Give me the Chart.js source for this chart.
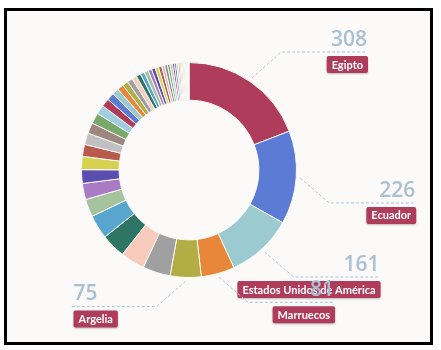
<!DOCTYPE html>
<html lang="es">
<head>
<meta charset="utf-8">
<title>Donut por país</title>
<script src="https://cdn.jsdelivr.net/npm/chart.js@4/dist/chart.umd.min.js"></script>
<style>
    body { margin: 0; background: #ffffff; }
    .frame {
        position: absolute;
        left: 4px;
        top: 8px;
        width: 423px;
        height: 331px;
        border: 3px solid #000;
        background: #fbfaf8;
    }
    canvas { display: block; }
</style>
</head>
<body>
<div class="frame"><canvas id="chart" width="423" height="331"></canvas></div>
<script>
// Data
const countries = [
    'Egipto', 'Ecuador', 'Estados Unidos de América', 'Marruecos', 'Argelia',
    'Perú', 'Chile', 'Colombia', 'México', 'Argentina', 'Brasil', 'Túnez',
    'Libia', 'Cuba', 'Uruguay', 'Venezuela', 'Bolivia', 'Paraguay', 'Panamá',
    'Costa Rica', 'Guatemala', 'Honduras', 'Nicaragua', 'El Salvador',
    'República Dominicana', 'Puerto Rico', 'Canadá', 'Francia', 'Italia',
    'Portugal', 'Alemania', 'Reino Unido', 'Países Bajos', 'Bélgica', 'Suiza',
    'China', 'Japón', 'India', 'Turquía', 'Israel', 'Jordania', 'Líbano',
    'Senegal', 'Mauritania', 'Nigeria', 'Sudáfrica', 'Australia'
];
const values = [
    308, 226, 161, 81, 75,
    67, 59, 59, 58, 43, 39, 33, 32, 29, 28, 26, 26, 22, 20,
    18, 16, 15, 14, 13, 12, 11, 10, 10, 9, 9, 8, 8, 7, 7, 6, 6,
    5, 5, 4, 4, 3, 3, 3, 2, 2, 2, 2, 1, 1, 1, 1, 1
];
const palette = [
    '#b03c5c', '#5b7bd5', '#9ccad1', '#e8873a', '#b3ad45', '#a0a0a0',
    '#f8cbbd', '#2f7565', '#58a5cd', '#a5c49e', '#a97bc4', '#5a4fb0',
    '#d6d24f', '#b95a4d', '#c0c0c0', '#9d8780', '#78a86a', '#9fcde2'
];
// only the biggest slices get a callout
const labelledCount = 5;

// Fill names if there are more values than names
const labels = values.map((v, i) => countries[i] || ('País ' + (i + 1)));
const colors = values.map((v, i) => palette[i % palette.length]);

// Callout plugin: dashed leader, value and red tag
const calloutPlugin = {
    id: 'callouts',
    afterDatasetsDraw(chart) {
        const ctx = chart.ctx;
        const meta = chart.getDatasetMeta(0);
        meta.data.forEach((arc, i) => {
            if (i >= labelledCount) return;
            const mid = (arc.startAngle + arc.endAngle) / 2;
            const r = arc.outerRadius + 4;
            const sx = arc.x + Math.cos(mid) * r;
            const sy = arc.y + Math.sin(mid) * r;
            const right = Math.cos(mid) >= 0;
            const down = Math.sin(mid) >= 0;
            const ex = sx + (right ? 29 : -29);
            const ey = sy + (down ? 25 : -26);
            const lx = ex + (right ? 86 : -86);

            ctx.save();
            ctx.strokeStyle = '#a9c6dc';
            ctx.lineWidth = 1;
            ctx.setLineDash([3, 2]);
            ctx.beginPath();
            ctx.moveTo(sx, sy);
            ctx.lineTo(ex, ey);
            ctx.lineTo(lx, ey);
            ctx.stroke();
            ctx.setLineDash([]);

            // tag
            ctx.font = 'bold 11px Lato';
            const tw = ctx.measureText(labels[i]).width;
            const bw = tw + 10;
            const bh = 17;
            const bx = right ? lx + 1 - bw : lx + 3;
            const by = ey + 4;
            ctx.shadowColor = 'rgba(0,0,0,0.25)';
            ctx.shadowBlur = 2;
            ctx.shadowOffsetY = 1;
            ctx.fillStyle = '#b03c5c';
            ctx.beginPath();
            ctx.roundRect(bx, by, bw, bh, 2);
            ctx.fill();
            ctx.shadowColor = 'transparent';
            ctx.fillStyle = '#ffffff';
            ctx.textAlign = 'center';
            ctx.textBaseline = 'middle';
            ctx.fillText(labels[i], bx + bw / 2, by + bh / 2 + 0.5);

            // value
            ctx.font = '600 21px "Open Sans"';
            ctx.fillStyle = '#a8bfd4';
            ctx.textAlign = right ? 'right' : 'left';
            ctx.textBaseline = 'alphabetic';
            ctx.fillText(String(values[i]), right ? lx : lx + 3, ey - 6);
            ctx.restore();
        });
    }
};

new Chart(document.getElementById('chart'), {
    type: 'doughnut',
    data: {
        labels: labels,
        datasets: [{
            data: values,
            backgroundColor: colors,
            borderColor: '#fbfaf8',
            borderWidth: 1
        }]
    },
    options: {
        responsive: false,
        animation: false,
        cutout: '65%',
        layout: {
            padding: { left: 74, top: 51, right: 133, bottom: 64 }
        },
        plugins: {
            legend: { display: false },
            tooltip: { enabled: false }
        }
    },
    plugins: [calloutPlugin]
});
</script>
</body>
</html>
